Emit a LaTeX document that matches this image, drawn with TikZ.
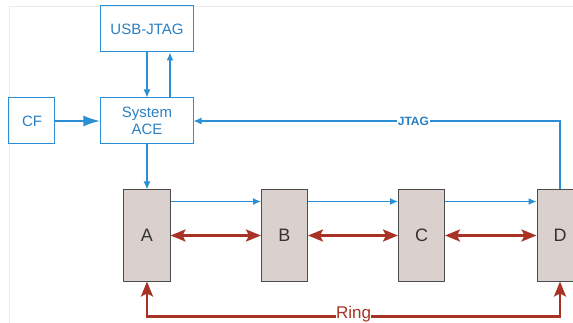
\documentclass[tikz,border=0pt]{standalone}
\usepackage{fontspec}
\setmainfont{Liberation Sans}
\usetikzlibrary{arrows.meta, positioning}
\definecolor{jtagblue}{HTML}{2A8FD4}
\definecolor{labelblue}{HTML}{2B7FC2}
\definecolor{ringred}{HTML}{A83224}
\definecolor{chipgray}{HTML}{DAD1CF}

\begin{document}
\begin{tikzpicture}[node distance=92pt]
        \tikzstyle{box} = [rectangle, draw=jtagblue, line width=1pt, text=labelblue, align=center, font=\fontsize{15}{17}\selectfont, minimum height=46pt, minimum width=92pt]
        \tikzstyle{chip} = [rectangle, draw=black!70, fill=chipgray, line width=1pt, text=black!80, font=\fontsize{18}{20}\selectfont, minimum height=91pt, minimum width=46pt]
        \tikzstyle{link} = [jtagblue, line width=1.2pt, -{Latex[length=8pt,width=7pt]}]
        \tikzstyle{ring} = [ringred, line width=2.4pt, {Stealth[length=15pt,width=12pt,inset=3pt]}-{Stealth[length=15pt,width=12pt,inset=3pt]}]

        \useasboundingbox (-147pt,29pt) rectangle (426pt,-294pt);
        \draw [black!8] (-138pt,-300pt) -- (-138pt,23pt) -- (430pt,23pt);

        \node (usb) [box] {USB-JTAG};
        \node (ace) [box, below of=usb] {System\\ACE};
        \node (cf) [box, minimum width=46pt, left of=ace, xshift=-23pt] {CF};

        \node (A) [chip, below of=ace, yshift=-22.5pt] {A};
        \node (B) [chip, right of=A, xshift=45.5pt] {B};
        \node (C) [chip, right of=B, xshift=45pt] {C};
        \node (D) [chip, right of=C, xshift=46.5pt] {D};

        \draw [link] (usb) -- (ace);
        \draw [link] ([xshift=23pt]ace.north) -- ([xshift=23pt]usb.south);
        \draw [link, line width=2.6pt, -{Latex[length=17pt,width=11pt]}] (cf) -- (ace);
        \draw [link] (ace) -- (A);

        \draw [link] ([yshift=-12pt]A.north east) -- ([yshift=-12pt]B.north west);
        \draw [link] ([yshift=-12pt]B.north east) -- ([yshift=-12pt]C.north west);
        \draw [link] ([yshift=-12pt]C.north east) -- ([yshift=-12pt]D.north west);
        \draw [link] (D.north) |- node[pos=0.7, fill=white, inner sep=1pt, text=labelblue, font=\bfseries\fontsize{12}{13}\selectfont] {JTAG} (ace.east);

        \draw [ring] (A) -- (B);
        \draw [ring] (B) -- (C);
        \draw [ring] (C) -- (D);
        \draw [ring] (A.south) -- ++(0,-35pt) -| node[pos=0.25, fill=white, inner sep=0.5pt, yshift=2pt, font=\fontsize{17}{18}\selectfont] {Ring} (D.south);
    \end{tikzpicture}
\end{document}
